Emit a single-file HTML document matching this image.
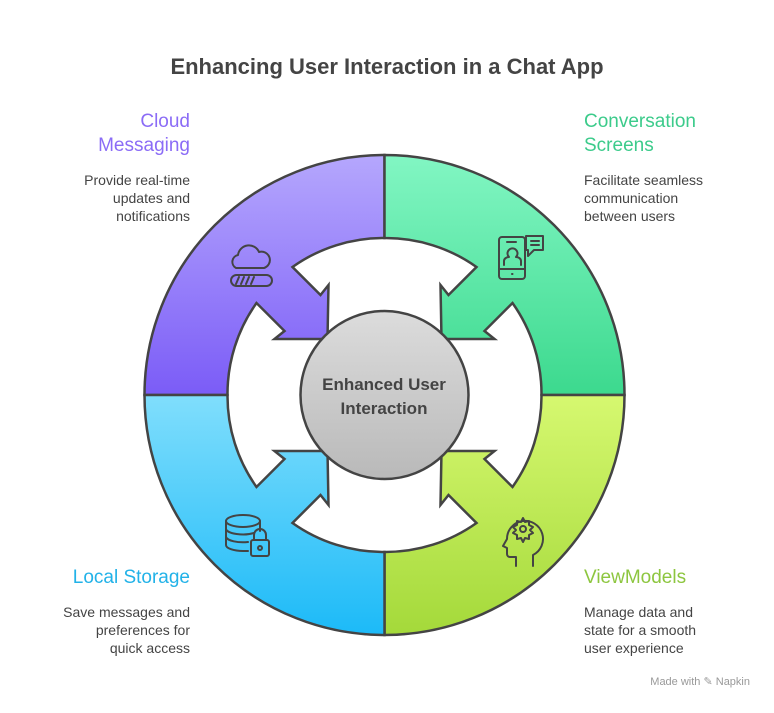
<!DOCTYPE html>
<html><head><meta charset="utf-8"><style>
body{margin:0;background:#fff;width:774px;height:708px;overflow:hidden;font-family:"Liberation Sans",sans-serif;}
</style></head><body>
<svg width="774" height="708" viewBox="0 0 774 708" xmlns="http://www.w3.org/2000/svg" font-family="Liberation Sans, sans-serif">
<defs>
<linearGradient id="gp" x1="0" y1="0" x2="0" y2="1"><stop offset="0" stop-color="#b5a7fd"/><stop offset="1" stop-color="#7b5cf7"/></linearGradient>
<linearGradient id="gg" x1="0" y1="0" x2="0" y2="1"><stop offset="0" stop-color="#82f6c3"/><stop offset="1" stop-color="#3cd98e"/></linearGradient>
<linearGradient id="gy" x1="0" y1="1" x2="0" y2="0"><stop offset="0" stop-color="#d6f870"/><stop offset="1" stop-color="#a4d93a"/></linearGradient>
<linearGradient id="gb" x1="0" y1="1" x2="0" y2="0"><stop offset="0" stop-color="#80defc"/><stop offset="1" stop-color="#1cbaf8"/></linearGradient>
<linearGradient id="gc" x1="0" y1="0" x2="0" y2="1"><stop offset="0" stop-color="#dcdcdc"/><stop offset="1" stop-color="#b9b9b9"/></linearGradient>
<path id="seg" d="M0,-240 A240 240 0 0 0 -240,0 L-157,0 A157 157 0 0 1 -128,-92 L-100,-64 L-110,-56 L-57,-56 L-56,-110 L-64,-100 L-92,-128 A157 157 0 0 1 0,-157 Z"/>
</defs>
<text x="387" y="74" text-anchor="middle" font-size="22" font-weight="bold" fill="#444">Enhancing User Interaction in a Chat App</text>
<g transform="translate(384.5,395)" stroke="#444" stroke-width="2.5" stroke-linejoin="miter">
<use href="#seg" fill="url(#gp)"/>
<use href="#seg" fill="url(#gg)" transform="scale(-1,1)"/>
<use href="#seg" fill="url(#gy)" transform="scale(-1,-1)"/>
<use href="#seg" fill="url(#gb)" transform="scale(1,-1)"/>
<circle r="84" fill="url(#gc)"/>
</g>
<text x="384" y="390" text-anchor="middle" font-size="17" font-weight="bold" fill="#444">Enhanced User</text>
<text x="384" y="414" text-anchor="middle" font-size="17" font-weight="bold" fill="#444">Interaction</text>
<!-- icons -->
<g fill="none" stroke="#444" stroke-width="2" stroke-linecap="round" stroke-linejoin="round">
<path d="M236,268 a7,7 0 0 1 2,-13 a11,11 0 0 1 21,-3 a8,8 0 0 1 5,16 Z"/>
<rect x="231" y="275" width="41" height="11" rx="5.5"/>
<path d="M236,284 l3,-7 M241,284 l3,-7 M246,284 l3,-7 M251,284 l3,-7"/>
<rect x="499" y="237" width="26" height="42" rx="3"/>
<path d="M507,242 h9 M499,269 h26 M512,274 h0.5"/>
<path d="M504,265 v-4 a5,4 0 0 1 5,-4 a5,5 0 1 1 7,0 a5,4 0 0 1 5,4 v4"/>
<path d="M526,236 h17 v14 h-9 l-6,6 v-6 h-2 Z M531,241 h8 M531,245 h8"/>
<ellipse cx="243" cy="521" rx="17" ry="6"/>
<path d="M226,521 v24 a17,6 0 0 0 17,6 h5 M260,521 v10 M226,529 a17,6 0 0 0 28,4 M226,537 a17,6 0 0 0 22,5"/>
<rect x="251" y="540" width="18" height="16" rx="2"/>
<path d="M254,540 v-5 a6,6 0 0 1 12,0 v5"/><circle cx="260" cy="548" r="2"/>
<path d="M516,566 v-9 h-6 a3,3 0 0 1 -3,-3 v-6 l-4,-2 l4,-7 a18,18 0 1 1 26,16 v11"/>
<circle cx="523" cy="529" r="3"/>
<path d="M523,518 l2,4 4,-1 0,4 4,2 -3,3 3,3 -4,2 0,4 -4,-1 -2,4 -2,-4 -4,1 0,-4 -4,-2 3,-3 -3,-3 4,-2 0,-4 4,1 Z"/>
</g>
<!-- labels -->
<g font-size="19">
<text x="190" y="127" text-anchor="end" fill="#8b6cf6">Cloud</text>
<text x="190" y="151" text-anchor="end" fill="#8b6cf6">Messaging</text>
<text x="584" y="127" fill="#3ccb8b">Conversation</text>
<text x="584" y="151" fill="#3ccb8b">Screens</text>
<text x="190" y="583" text-anchor="end" fill="#22b2e8">Local Storage</text>
<text x="584" y="583" fill="#8dc63f">ViewModels</text>
</g>
<g font-size="14" fill="#444">
<text x="190" y="185" text-anchor="end">Provide real-time</text>
<text x="190" y="203" text-anchor="end">updates and</text>
<text x="190" y="221" text-anchor="end">notifications</text>
<text x="584" y="185">Facilitate seamless</text>
<text x="584" y="203">communication</text>
<text x="584" y="221">between users</text>
<text x="190" y="617" text-anchor="end">Save messages and</text>
<text x="190" y="635" text-anchor="end">preferences for</text>
<text x="190" y="653" text-anchor="end">quick access</text>
<text x="584" y="617">Manage data and</text>
<text x="584" y="635">state for a smooth</text>
<text x="584" y="653">user experience</text>
</g>
<text x="750" y="685" text-anchor="end" font-size="11" fill="#999">Made with ✎ Napkin</text>
</svg>
</body></html>
